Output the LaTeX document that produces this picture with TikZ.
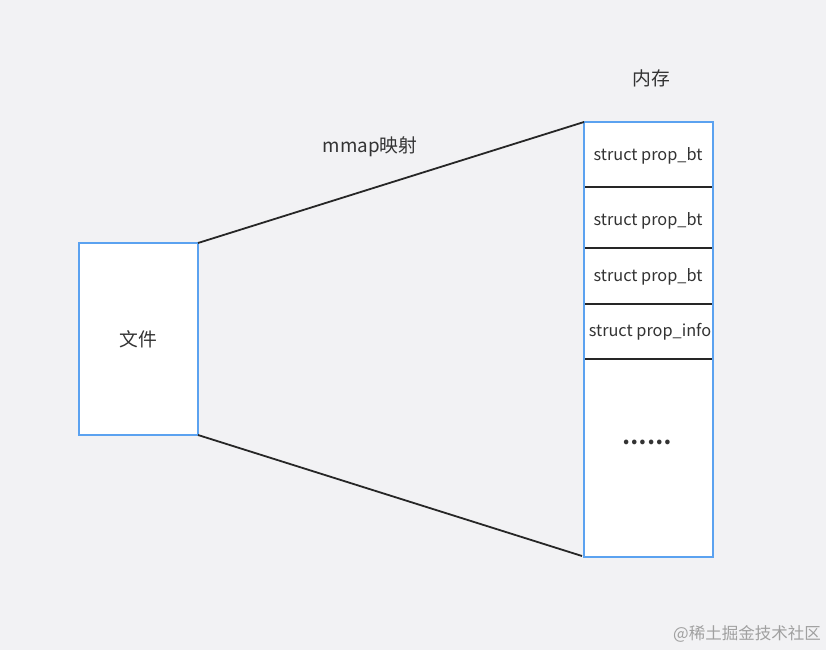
\documentclass[tikz,border=0pt]{standalone}
\usepackage{fontspec}
\setmainfont{Noto Sans}
\newfontfamily\cjk{Noto Sans CJK SC}
\definecolor{bg}{HTML}{F2F2F4}
\definecolor{boxblue}{HTML}{5BA2F0}
\definecolor{txt}{HTML}{333333}
\definecolor{wm}{HTML}{A0A0A0}
\begin{document}
\begin{tikzpicture}[x=1pt,y=-1pt,
  lbl/.style={text=txt,font=\cjk\fontsize{16.3}{19}\selectfont,inner sep=0pt},
  biglbl/.style={text=txt,font=\cjk\fontsize{18.8}{22}\selectfont,inner sep=0pt},
  blbox/.style={draw=boxblue,line width=2.3pt,fill=white},
  divl/.style={draw=black!85,line width=1.8pt},
  conn/.style={draw=black!85,line width=1.8pt}]
\fill[bg] (0,0) rectangle (826,650);
\useasboundingbox (0,0) rectangle (826,650);
% file box
\draw[blbox] (79,243) rectangle (198,435);
\coordinate (ftr) at (198,243);
\coordinate (fbr) at (198,435);
\node[biglbl] (file) at (138.5,339) {文件};
% memory column
\draw[blbox] (584,122) rectangle (713,557);
\coordinate (mtl) at (584,122);
\coordinate (mbl) at (582,556);
\draw[divl] (584,187) -- (713,187);
\draw[divl] (584,248) -- (713,248);
\draw[divl] (584,304) -- (713,304);
\draw[divl] (584,359) -- (713,359);
\draw[blbox,fill=none] (584,122) rectangle (713,557);
\node[lbl] (m1) at (648,156) {struct prop\_bt};
\node[lbl] (m2) at (648,221) {struct prop\_bt};
\node[lbl] (m3) at (648,277) {struct prop\_bt};
\node[lbl] (m4) at (650,332) {struct prop\_info};
\node[text=txt,font=\cjk\fontsize{21.5}{24}\bfseries\selectfont,inner sep=0pt] (m5) at (647,442) {……};
\node[biglbl] (mem) at (651,78) {内存};
\node[biglbl] (mmap) at (370,147) {mmap映射};
% connectors
\draw[conn] (ftr) -- (mtl);
\draw[conn] (fbr) -- (mbl);
% watermark
\node[text=wm,font=\cjk\fontsize{16.5}{18}\selectfont,anchor=east,inner sep=0pt] (wmk) at (821,634) {@稀土掘金技术社区};
\end{tikzpicture}
\end{document}
